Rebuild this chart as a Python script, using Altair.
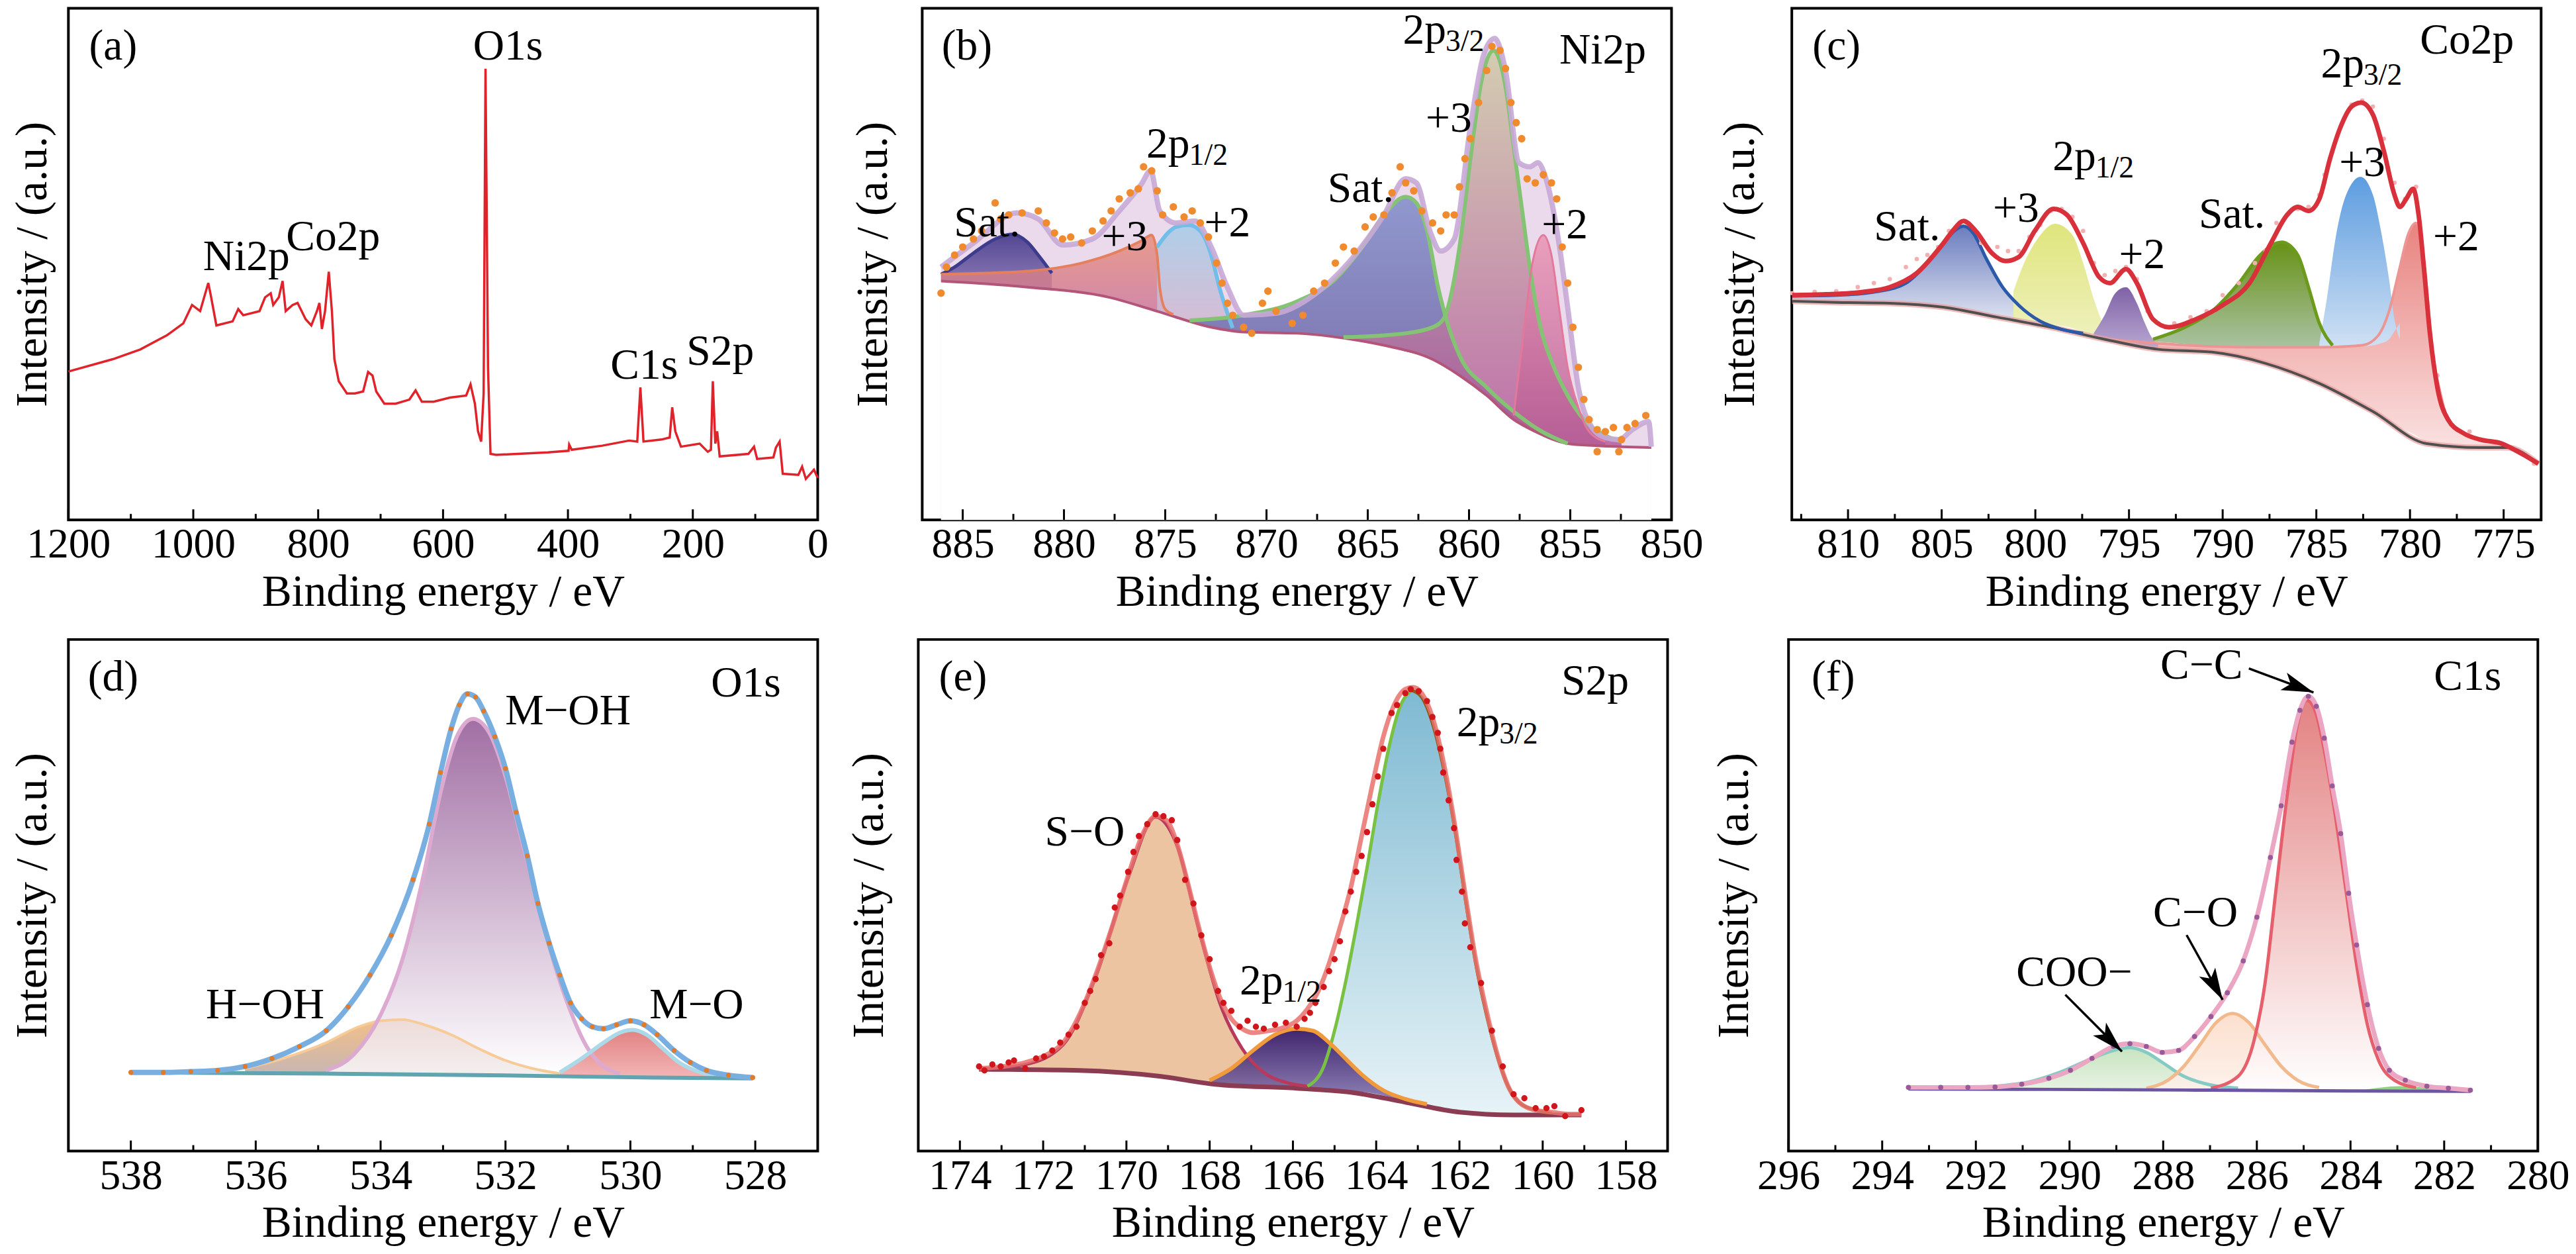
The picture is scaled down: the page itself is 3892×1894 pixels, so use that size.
import math

import altair as alt
import pandas as pd

FONT = "Liberation Serif"
W, H = 1140, 778

# %% (a) survey spectrum  (binding energy / eV, intensity / a.u.)

a_be = [1200, 1129, 1085, 1042, 1016, 1002, 989, 976, 972, 963, 937, 928, 920, 894, 885, 876, 872, 863, 857, 852,
        841, 833, 820, 811, 802, 798, 794, 789, 783, 778, 774, 767, 754, 741, 728, 720, 713, 707, 694, 676,
        654, 644, 634, 615, 589, 563, 556, 549, 544, 539, 535, 532, 528, 524, 515, 432, 399, 398, 394, 345,
        302, 289, 284, 279, 250, 237, 233, 228, 219, 189, 176, 171, 168, 164, 161, 157, 111, 102, 97, 71,
        67, 61, 56, 31, 25, 19, 6, 0]
a_int = [29.0, 31.4, 33.3, 36.1, 38.4, 42.0, 40.8, 46.3, 43.9, 38.0, 38.8, 41.2, 40.0, 40.8, 43.5, 44.3, 42.0, 43.5, 46.7, 40.8,
         42.0, 42.4, 39.2, 38.0, 40.8, 42.4, 37.3, 40.8, 48.5, 40.8, 31.4, 27.1, 24.7, 24.7, 25.1, 28.9, 28.2, 25.1, 22.7, 22.7,
         23.5, 25.3, 23.1, 23.1, 23.9, 24.3, 26.5, 22.7, 17.3, 15.3, 24.7, 88.2, 29.8, 12.9, 12.7, 13.2, 13.5, 14.7, 13.7, 14.5,
         15.5, 15.3, 25.9, 15.3, 15.7, 16.1, 22.0, 17.3, 14.3, 14.9, 13.3, 13.7, 27.1, 14.9, 17.3, 12.4, 12.9, 14.3, 11.9, 12.2,
         14.1, 15.3, 9.0, 8.8, 10.4, 8.0, 9.8, 8.2]
a_ticks = [1200, 1000, 800, 600, 400, 200, 0]
a_minor = [1100, 900, 700, 500, 300, 100]
a_lab = ["Ni2p", "Co2p", "O1s", "C1s", "S2p"]
a_lab_be = [915, 776, 496, 278, 156]
a_lab_i = [51.4, 55.3, 92.5, 30.2, 32.9]

# %% (b) Ni2p

b_bg_be = [886.07, 881.8, 877.8, 875.4, 872.73, 871.13, 868.47, 865.8, 864.2, 861.8, 860.47, 859.13, 857.8, 856.73,
           855.13, 853.8, 852.47, 851.0]
b_bg = [595, 580, 555, 520, 480, 468, 465, 450, 435, 400, 360, 310, 250, 220, 190, 185, 182, 180]
b_env_be = [886.07, 884.47, 882.33, 881.27, 880.07, 878.6, 877.27, 876.2, 875.72, 875.27, 874.47, 873.53, 872.73,
            871.93, 871.13, 869.53, 867.67, 865.8, 864.2, 863.13, 862.6, 861.93, 861.4, 860.73, 859.93, 859.27,
            858.73, 858.2, 857.53, 857.0, 856.6, 856.2, 855.53, 855.13, 854.6, 853.93, 853.27, 852.6, 851.93,
            851.13, 851.0]
b_env = [630, 690, 765, 750, 685, 700, 770, 835, 870, 770, 740, 745, 680, 580, 510, 515, 560, 650, 760, 850, 840,
         720, 670, 700, 980, 1160, 1200, 1120, 890, 880, 890, 850, 680, 530, 330, 230, 205, 200, 225, 245, 182]
b_sat1_be = [886.07, 885.4, 884.47, 883.4, 882.55, 881.8, 881.27, 880.6]
b_sat1 = [612, 630, 665, 700, 712, 692, 660, 615]
b_sat1_0 = [595, 593, 590, 586, 583, 580, 578, 576]
b_p3a_be = [886.07, 881.8, 879.13, 877.27, 876.2, 875.67, 875.4, 875.27, 875.0, 874.6]
b_p3a = [612, 620, 640, 670, 695, 710, 660, 580, 525, 512]
b_p3a_0 = [595, 580, 566, 547, 532, 524, 520, 518, 515, 510]
b_p2a_be = [875.4, 874.87, 874.47, 873.85, 873.27, 872.73, 872.33, 871.93, 871.67]
b_p2a = [680, 715, 730, 735, 720, 660, 580, 515, 478]
b_p2a_0 = [520, 512, 506, 497, 488, 480, 477, 474, 472]
b_sat2_be = [873.8, 871.13, 868.47, 866.6, 865.27, 864.2, 863.13, 862.6, 862.07, 861.53, 861.0, 860.47, 859.13,
             857.8, 856.47, 855.13]
b_sat2 = [497, 510, 545, 600, 680, 760, 805, 790, 720, 580, 480, 410, 330, 270, 222, 190]
b_sat2_0 = [496, 468, 465, 455, 445, 435, 420, 413, 404, 392, 376, 360, 310, 250, 215, 190]
b_p3b_be = [866.2, 863.13, 861.8, 861.27, 860.47, 859.93, 859.4, 858.79, 858.2, 857.8, 857.4, 857.0, 856.47,
            855.8, 855.13, 854.33, 853.27, 852.47]
b_p3b = [455, 465, 480, 500, 680, 900, 1090, 1170, 1080, 930, 780, 630, 480, 380, 310, 250, 210, 195]
b_p3b_0 = [452, 420, 400, 384, 360, 340, 320, 295, 272, 250, 239, 228, 215, 200, 190, 187, 184, 182]
b_p2b_be = [857.8, 857.27, 856.87, 856.33, 855.93, 855.53, 855.13, 854.6, 854.07, 853.27]
b_p2b = [260, 480, 640, 710, 660, 520, 380, 280, 220, 195]
b_p2b_0 = [250, 235, 225, 213, 205, 198, 190, 188, 186, 184]
b_dot_be = [886.07, 885.8, 885.4, 885.0, 884.47, 884.07, 883.4, 883.13, 882.73, 882.07, 881.27, 880.87, 880.47,
            880.07, 879.67, 879.13, 878.6, 878.07, 877.67, 877.27, 876.73, 876.33, 876.07, 875.67, 875.4, 875.13,
            874.6, 874.07, 873.67, 873.27, 872.87, 872.47, 872.2, 871.93, 871.67, 871.13, 870.73, 870.2, 869.93,
            869.53, 868.73, 868.2, 867.67, 867.13, 866.6, 866.2, 865.67, 865.13, 864.73, 864.2, 863.8, 863.4,
            863.13, 862.73, 862.33, 861.8, 861.4, 861.13, 860.73, 860.47, 860.2, 859.93, 859.53, 859.13, 858.87,
            858.47, 858.2, 857.93, 857.67, 857.4, 857.13, 856.73, 856.33, 855.93, 855.67, 855.4, 855.13, 854.87,
            854.6, 854.33, 854.07, 853.67, 853.27, 852.87, 852.47, 852.2, 851.8, 851.27, 853.67, 852.6]
b_dot = [565, 630, 660, 680, 700, 720, 790, 750, 760, 765, 770, 740, 715, 700, 705, 690, 720, 745, 770, 800, 815,
         825, 880, 870, 820, 760, 780, 755, 770, 740, 705, 640, 590, 540, 510, 480, 465, 540, 570, 520, 490, 510,
         570, 590, 640, 680, 670, 730, 755, 760, 815, 880, 840, 820, 770, 740, 720, 760, 760, 830, 900, 950, 1040,
         1120, 1180, 1170, 1125, 1040, 990, 950, 850, 840, 860, 840, 800, 680, 590, 480, 380, 300, 250, 225, 220,
         230, 200, 230, 240, 260, 170, 170]
b_ticks = [885, 880, 875, 870, 865, 860, 855, 850]
b_minor = [882.5, 877.5, 872.5, 867.5, 862.5, 857.5, 852.5]
b_lab = ["Ni2p", "+3", "Sat.", "+3", "+2", "Sat.", "+2"]
b_lab_be = [853.4, 861.0, 883.8, 877.0, 871.93, 865.35, 855.27]
b_lab_i = [1170, 1000, 740, 705, 740, 825, 735]
b_sub_be = [863.27, 875.93]
b_sub_i = [1220, 935]
b_sub = ["3/2", "1/2"]

# %% (c) Co2p

c_bg_be = [812.98, 810.63, 807.77, 804.9, 802.03, 799.17, 796.3, 793.44, 790.57, 787.71, 784.84, 781.98, 779.11,
           776.25, 774.82, 773.15]
c_bg = [545, 542, 540, 530, 505, 480, 450, 425, 418, 390, 340, 270, 190, 180, 180, 140]
c_env_be = [812.98, 811.2, 809.2, 807.77, 806.33, 804.9, 804.33, 803.84, 803.18, 802.32, 801.6, 800.89, 800.03,
            799.03, 798.31, 797.45, 796.59, 796.02, 795.16, 794.58, 793.72, 792.87, 791.43, 790.0, 788.57, 787.42,
            786.56, 785.99, 785.42, 784.84, 784.27, 783.7, 783.12, 782.61, 781.98, 781.4, 780.83, 780.54, 780.2,
            779.83, 779.54, 779.26, 778.97, 778.54, 777.97, 777.11, 776.25, 775.1, 774.24, 773.15]
c_env = [560, 562, 568, 580, 615, 690, 725, 745, 720, 665, 645, 655, 720, 775, 760, 690, 605, 590, 625, 590, 500,
         480, 500, 535, 590, 690, 760, 780, 770, 800, 900, 980, 1030, 1040, 1010, 920, 810, 780, 800, 825, 760,
         630, 480, 330, 250, 215, 200, 190, 170, 140]
c_sat1_be = [812.98, 810.63, 808.34, 806.91, 805.76, 804.9, 804.33, 803.84, 803.32, 802.61, 801.75, 800.89,
             799.74, 798.6, 797.45]
c_sat1 = [558, 560, 570, 590, 640, 690, 720, 732, 715, 650, 580, 535, 495, 475, 465]
c_sat1_0 = [545, 542, 540, 538, 535, 530, 522, 518, 514, 509, 503, 497, 490, 480, 468]
c_p3a_be = [801.17, 800.6, 799.89, 798.94, 798.02, 797.45, 796.88, 796.3, 795.87]
c_p3a = [570, 640, 700, 738, 710, 640, 550, 480, 455]
c_p3a_0 = [501, 499, 494, 486, 478, 468, 460, 450, 445]
c_p2a_be = [796.88, 796.3, 795.73, 795.16, 794.58, 794.15, 793.72, 793.44]
c_p2a = [465, 510, 565, 580, 540, 490, 450, 440]
c_p2a_0 = [458, 450, 445, 438, 432, 428, 426, 425]
c_sat2_be = [793.72, 792.01, 790.57, 789.14, 788.0, 786.85, 785.99, 785.42, 784.84, 784.13]
c_sat2 = [450, 480, 520, 590, 660, 692, 660, 580, 490, 435]
c_sat2_0 = [445, 438, 432, 430, 430, 430, 430, 430, 430, 432]
c_p3b_be = [784.84, 784.41, 783.98, 783.41, 782.64, 781.98, 781.55, 781.12, 780.83, 780.54]
c_p3b = [440, 560, 700, 810, 855, 810, 720, 600, 500, 450]
c_p3b_0 = [432, 432, 432, 432, 432, 435, 440, 450, 470, 490]
c_p2b_be = [796.3, 793.44, 790.57, 787.71, 784.84, 782.55, 781.69, 781.12, 780.54, 780.11, 779.68, 779.4, 779.11,
            778.83, 778.4, 777.97, 777.11, 776.25, 775.1, 774.24, 773.15]
c_p2b = [450, 440, 432, 430, 430, 435, 460, 520, 630, 710, 740, 700, 580, 430, 320, 250, 215, 200, 192, 170, 140]
c_p2b_0 = [450, 425, 418, 390, 340, 280, 260, 245, 230, 220, 210, 202, 190, 185, 182, 180, 180, 180, 180, 168, 140]
c_dot_be = [812.98, 811.78, 810.63, 809.48, 808.62, 807.77, 806.91, 806.33, 805.76, 805.19, 804.61, 804.04,
            803.47, 802.89, 802.03, 801.46, 800.89, 800.32, 799.74, 799.17, 798.6, 798.02, 797.45, 796.88, 796.3,
            795.73, 795.16, 794.58, 794.01, 793.44, 792.58, 791.72, 790.86, 790.0, 789.14, 788.28, 787.71, 787.13,
            786.56, 785.99, 785.42, 784.84, 784.56, 784.27, 783.7, 783.12, 782.55, 781.98, 781.4, 780.83, 780.26,
            779.68, 779.11, 778.54, 777.97, 776.82, 775.67, 774.53, 773.38]
c_dot = [565, 568, 570, 580, 590, 600, 630, 650, 660, 680, 720, 740, 735, 690, 680, 670, 670, 705, 735, 770, 775,
         755, 720, 640, 610, 620, 630, 600, 520, 490, 490, 505, 520, 560, 590, 640, 670, 740, 760, 775, 780, 810,
         860, 900, 980, 1035, 1045, 1030, 950, 840, 800, 830, 520, 360, 250, 220, 195, 180, 140]
c_ticks = [810, 805, 800, 795, 790, 785, 780, 775]
c_minor = [812.5, 807.5, 802.5, 797.5, 792.5, 787.5, 782.5, 777.5]
c_lab = ["Co2p", "+3", "+2", "Sat.", "+3", "Sat.", "+2"]
c_lab_be = [776.96, 782.55, 777.54, 789.51, 801.03, 806.85, 794.3]
c_lab_i = [1195, 890, 705, 760, 775, 730, 660]
c_sub_be = [784.76, 799.08]
c_sub_i = [1135, 905]
c_sub = ["3/2", "1/2"]

# %% (d) O1s

d_bg_be = [538, 534.87, 532.26, 529.65, 528.04]
d_bg = [198, 195, 191, 185, 183]
d_env_be = [538, 537.48, 537.04, 536.61, 536.17, 535.74, 535.3, 534.87, 534.52, 534.17, 533.83, 533.48, 533.22,
            533.04, 532.87, 532.74, 532.61, 532.48, 532.35, 532.17, 532.0, 531.83, 531.65, 531.48, 531.3, 531.13,
            530.96, 530.78, 530.61, 530.43, 530.22, 530.0, 529.78, 529.57, 529.3, 529.04, 528.78, 528.43, 528.04]
d_env = [198, 198, 200, 203, 213, 233, 263, 303, 363, 443, 543, 683, 823, 953, 1063, 1123, 1151, 1143, 1108, 1043,
         963, 853, 743, 623, 523, 443, 373, 333, 313, 308, 318, 328, 318, 293, 253, 223, 203, 191, 185]
d_moh_be = [534.87, 534.43, 534.0, 533.65, 533.3, 533.04, 532.78, 532.52, 532.26, 532.0, 531.74, 531.48, 531.22,
            530.96, 530.7, 530.43, 530.17]
d_moh = [203, 243, 343, 483, 703, 903, 1043, 1088, 1053, 943, 783, 623, 473, 353, 263, 213, 195]
d_moh_0 = [193, 193, 192, 191, 191, 191, 190, 190, 189, 189, 189, 188, 188, 187, 187, 187, 186]
d_hoh_be = [536.17, 535.57, 534.87, 534.35, 534.0, 533.65, 533.3, 532.87, 532.43, 532.0, 531.57, 531.13]
d_hoh = [208, 233, 273, 313, 328, 331, 318, 293, 258, 228, 208, 195]
d_hoh_0 = [195, 194, 193, 193, 192, 191, 191, 190, 190, 189, 188, 188]
d_mo_be = [531.13, 530.78, 530.43, 530.17, 529.96, 529.74, 529.48, 529.22, 528.87, 528.52]
d_mo = [198, 233, 273, 298, 305, 293, 258, 223, 198, 188]
d_mo_0 = [188, 187, 187, 186, 186, 185, 185, 184, 184, 183]
d_ticks = [538, 536, 534, 532, 530, 528]
d_minor = [537, 535, 533, 531, 529]
d_lab = ["O1s", "M\u2212OH", "H\u2212OH", "M\u2212O"]
d_lab_be = [528.15, 531.0, 535.85, 528.94]
d_lab_i = [1178, 1108, 368, 368]

# %% (e) S2p

e_bg_be = [173.54, 171.13, 169.17, 167.87, 165.91, 164.61, 163.3, 162.0, 160.7, 159.07]
e_bg = [206, 203, 188, 168, 158, 148, 123, 98, 91, 91]
e_env_be = [173.54, 172.96, 172.43, 171.91, 171.52, 171.13, 170.74, 170.35, 169.96, 169.63, 169.3, 169.04, 168.78,
            168.52, 168.26, 168.0, 167.74, 167.48, 167.22, 166.96, 166.57, 166.17, 165.91, 165.65, 165.39, 165.13,
            164.87, 164.61, 164.35, 164.09, 163.83, 163.57, 163.3, 163.11, 162.91, 162.65, 162.39, 162.13, 161.87,
            161.61, 161.35, 161.09, 160.83, 160.57, 160.17, 159.78, 159.39, 159.07]
e_env = [208, 213, 223, 243, 273, 343, 443, 563, 693, 793, 843, 833, 773, 673, 563, 463, 383, 333, 308, 298, 303,
         313, 328, 358, 403, 473, 563, 663, 793, 923, 1043, 1123, 1163, 1168, 1153, 1093, 983, 833, 653, 483, 353,
         243, 163, 123, 103, 98, 93, 93]
e_so_be = [173.54, 172.43, 171.52, 170.74, 169.96, 169.3, 168.78, 168.26, 167.74, 167.22, 166.7, 166.17, 165.65]
e_so = [206, 218, 268, 438, 688, 841, 768, 558, 368, 258, 198, 173, 163]
e_so_0 = [206, 204, 203, 200, 192, 187, 180, 172, 168, 164, 161, 158, 157]
e_p1_be = [168.0, 167.48, 166.96, 166.43, 165.91, 165.52, 165.13, 164.74, 164.35, 163.83, 163.3, 162.78]
e_p1 = [178, 208, 253, 293, 308, 303, 273, 233, 193, 153, 131, 118]
e_p1_0 = [172, 168, 164, 160, 158, 156, 154, 152, 149, 140, 123, 110]
e_p3_be = [165.65, 165.26, 165.0, 164.74, 164.48, 164.22, 163.96, 163.7, 163.43, 163.15, 162.91, 162.65, 162.39,
           162.13, 161.87, 161.61, 161.35, 161.09, 160.83, 160.57, 160.17, 159.78]
e_p3 = [163, 213, 303, 423, 563, 713, 873, 1013, 1118, 1160, 1143, 1078, 968, 823, 643, 473, 343, 238, 163, 123,
        103, 95]
e_p3_0 = [157, 154, 152, 149, 146, 141, 136, 131, 125, 120, 116, 111, 106, 101, 97, 96, 94, 93, 92, 91, 91, 91]
e_dot_be = [173.54, 173.41, 173.22, 173.02, 172.83, 172.7, 172.43, 172.17, 171.98, 171.78, 171.59, 171.39, 171.2,
            171.0, 170.87, 170.74, 170.61, 170.41, 170.28, 170.15, 169.96, 169.83, 169.7, 169.5, 169.3, 169.11,
            168.91, 168.78, 168.59, 168.39, 168.2, 168.0, 167.8, 167.67, 167.48, 167.28, 167.09, 166.89, 166.7,
            166.43, 166.17, 165.91, 165.72, 165.59, 165.46, 165.26, 165.13, 165.0, 164.87, 164.74, 164.61, 164.48,
            164.35, 164.22, 164.09, 163.96, 163.83, 163.63, 163.5, 163.3, 163.17, 162.98, 162.78, 162.65, 162.52,
            162.46, 162.39, 162.26, 162.13, 162.07, 161.94, 161.87, 161.74, 161.48, 161.22, 160.96, 160.7, 160.44,
            160.17, 159.91, 159.72, 159.46, 159.07]
e_dot = [213, 203, 218, 213, 223, 228, 208, 233, 238, 253, 273, 293, 313, 373, 403, 433, 493, 523, 613, 643, 703,
         753, 793, 823, 848, 843, 833, 783, 683, 623, 543, 483, 403, 373, 353, 313, 328, 313, 308, 318, 323, 313,
         333, 348, 373, 413, 453, 483, 528, 603, 653, 703, 743, 803, 873, 943, 1013, 1103, 1123, 1153, 1163, 1158,
         1133, 1093, 1053, 1013, 953, 883, 813, 733, 653, 573, 513, 423, 303, 213, 143, 133, 108, 108, 113, 88, 103]
e_ticks = [174, 172, 170, 168, 166, 164, 162, 160, 158]
e_minor = [173, 171, 169, 167, 165, 163, 161, 159]
e_lab = ["S2p", "S\u2212O"]
e_lab_be = [158.74, 171.0]
e_lab_i = [1183, 803]
e_sub_be = [162.07, 167.28]
e_sub_i = [1078, 428]
e_sub = ["3/2", "1/2"]

# %% (f) C1s

f_bg_be = [293.44, 290.44, 286.98, 284.04, 281.44]
f_bg = [156, 155, 153, 151, 150]
f_env_be = [293.44, 292.75, 292.17, 291.59, 291.02, 290.44, 289.98, 289.52, 289.06, 288.71, 288.36, 288.02,
            287.67, 287.33, 286.98, 286.63, 286.29, 286.0, 285.71, 285.48, 285.25, 285.08, 284.9, 284.73, 284.56,
            284.39, 284.21, 284.04, 283.87, 283.64, 283.4, 283.17, 282.83, 282.37, 281.91, 281.44]
f_env = [160, 160, 160, 161, 168, 183, 203, 233, 263, 270, 263, 248, 253, 288, 338, 398, 478, 588, 738, 868, 1028,
         1108, 1143, 1118, 1038, 918, 798, 648, 518, 368, 258, 203, 178, 163, 158, 153]
f_coo_be = [292.4, 291.59, 290.9, 290.21, 289.52, 289.06, 288.71, 288.36, 288.02, 287.56, 286.98, 286.4]
f_coo = [158, 163, 173, 198, 233, 253, 260, 248, 223, 188, 166, 158]
f_coo_0 = [156, 156, 155, 155, 155, 154, 154, 154, 154, 153, 153, 153]
f_co_be = [288.36, 287.9, 287.56, 287.21, 286.87, 286.52, 286.17, 285.83, 285.48, 285.13, 284.67]
f_co = [158, 178, 213, 268, 323, 346, 323, 268, 213, 178, 160]
f_co_0 = [154, 154, 153, 153, 153, 153, 152, 152, 152, 152, 151]
f_cc_be = [286.98, 286.4, 286.06, 285.83, 285.6, 285.37, 285.14, 284.93, 284.73, 284.56, 284.33, 284.1, 283.87,
           283.64, 283.4, 283.06, 282.6]
f_cc = [158, 188, 278, 418, 648, 878, 1068, 1133, 1098, 1008, 848, 658, 468, 318, 228, 178, 160]
f_cc_0 = [153, 153, 152, 152, 152, 152, 152, 151, 151, 151, 151, 151, 151, 151, 151, 150, 150]
f_gr_be = [283.75, 282.94, 282.14]
f_gr = [153, 163, 155]
f_gr_0 = [151, 151, 150]
f_ticks = [296, 294, 292, 290, 288, 286, 284, 282, 280]
f_minor = [295, 293, 291, 289, 287, 285, 283, 281]
f_lab = ["C1s", "C\u2212C", "C\u2212O", "COO\u2212"]
f_lab_be = [281.5, 287.18, 287.31, 289.9]
f_lab_i = [1193, 1220, 598, 448]
# arrows: tail (be, i) -> head (be2, i2)
f_arr_be = [286.17, 287.5, 290.09]
f_arr_i = [1213, 543, 393]
f_arr_be2 = [284.79, 286.73, 288.88]
f_arr_i2 = [1153, 380, 250]


# %% helpers

def grad(top, bottom):
    return alt.Gradient(
        gradient="linear", x1=0, x2=0, y1=0, y2=1,
        stops=[alt.GradientStop(color=top, offset=0), alt.GradientStop(color=bottom, offset=1)],
    )


def encs(lo, hi, top, ticks, tpad):
    x = alt.X(
        "be:Q",
        scale=alt.Scale(domain=[lo, hi], reverse=True, nice=False, zero=False),
        axis=alt.Axis(
            values=ticks, format="d", title="Binding energy / eV", grid=False, ticks=False, tickSize=0,
            domain=False, labelFont=FONT, labelFontSize=64, labelColor="black", labelPadding=6,
            labelFlush=False, labelOverlap=False, titleFont=FONT, titleFontSize=68,
            titleFontWeight="normal", titleColor="black", titlePadding=6,
        ),
    )
    y = alt.Y(
        "i:Q",
        scale=alt.Scale(domain=[0, top], nice=False),
        axis=alt.Axis(
            title="Intensity / (a.u.)", labels=False, ticks=False, domain=False, grid=False,
            titleFont=FONT, titleFontSize=68, titleFontWeight="normal", titleColor="black",
            titlePadding=tpad,
        ),
    )
    return x, y


def area(X, Y, be, top, base, fill, opacity=1.0):
    df = pd.DataFrame({"be": be, "i": top, "i0": base})
    return alt.Chart(df).mark_area(color=fill, opacity=opacity, interpolate="monotone").encode(
        x=X, y=Y, y2="i0:Q")


def floor_area(X, Y, be, top, fill, opacity=1.0):
    df = pd.DataFrame({"be": be, "i": top})
    return alt.Chart(df).mark_area(color=fill, opacity=opacity, interpolate="monotone").encode(
        x=X, y=Y, y2=alt.value(H - 3))


def line(X, Y, be, vals, color, width, interp="monotone", opacity=1.0):
    df = pd.DataFrame({"be": be, "i": vals})
    return alt.Chart(df).mark_line(color=color, strokeWidth=width, interpolate=interp,
                                   opacity=opacity).encode(x=X, y=Y)


def dots(X, Y, be, vals, color, size, opacity=1.0):
    df = pd.DataFrame({"be": be, "i": vals})
    return alt.Chart(df).mark_circle(color=color, size=size, opacity=opacity).encode(x=X, y=Y)


def texts(X, Y, txt, be, vals):
    df = pd.DataFrame({"t": txt, "be": be, "i": vals})
    return alt.Chart(df).mark_text(font=FONT, fontSize=66, color="black").encode(x=X, y=Y, text="t")


def sub_texts(X, Y, be, vals, subs):
    df = pd.DataFrame({"be": be, "i": vals, "s": subs})
    main = alt.Chart(df).mark_text(font=FONT, fontSize=66, align="left", baseline="middle",
                                   color="black", text="2p").encode(x=X, y=Y)
    sub = alt.Chart(df).mark_text(font=FONT, fontSize=46, align="left", baseline="middle",
                                  color="black", dx=65, dy=17).encode(x=X, y=Y, text="s")
    return [main, sub]


def frame_ticks(X, major, minor):
    big = alt.Chart(pd.DataFrame({"be": major})).mark_rule(color="black", strokeWidth=3).encode(
        x=X, y=alt.value(H), y2=alt.value(H - 16))
    small = alt.Chart(pd.DataFrame({"be": minor})).mark_rule(color="black", strokeWidth=3).encode(
        x=X, y=alt.value(H), y2=alt.value(H - 9))
    return [big, small]


def tag(t):
    return alt.Chart(pd.DataFrame({"t": [t]})).mark_text(
        font=FONT, fontSize=66, color="black").encode(x=alt.value(68), y=alt.value(58), text="t")


def panel(layers):
    return alt.layer(*layers).properties(width=W, height=H)


# %% (a)
X, Y = encs(0, 1200, 100, a_ticks, 20)
pa = panel([
    line(X, Y, a_be, a_int, "#e0232b", 3.5, interp="linear"),
    texts(X, Y, a_lab, a_lab_be, a_lab_i),
    *frame_ticks(X, a_ticks, a_minor),
    tag("(a)"),
])

# %% (b)
X, Y = encs(850, 887, 1275, b_ticks, 40)
pb = panel([
    floor_area(X, Y, b_env_be, b_env, "#e9d6ea", 0.9),
    floor_area(X, Y, b_bg_be, b_bg, "white"),
    area(X, Y, b_sat1_be, b_sat1, b_sat1_0, grad("#4b3f8e", "#8a78b6"), 0.95),
    area(X, Y, b_p3a_be, b_p3a, b_p3a_0, grad("#e98a74", "#c9739a"), 0.8),
    area(X, Y, b_p2a_be, b_p2a, b_p2a_0, grad("#a5cce8", "#d6b6cf"), 0.85),
    area(X, Y, b_sat2_be, b_sat2, b_sat2_0, grad("#8591cb", "#6d5c9c"), 0.9),
    area(X, Y, b_p3b_be, b_p3b, b_p3b_0, grad("#cdc9a2", "#b3549a"), 0.8),
    area(X, Y, b_p2b_be, b_p2b, b_p2b_0, grad("#ea8fb0", "#b45a92"), 0.8),
    line(X, Y, b_bg_be, b_bg, "#b35479", 4),
    line(X, Y, b_sat1_be, b_sat1, "#3c3b8c", 5),
    line(X, Y, b_p3a_be, b_p3a, "#e5805f", 4),
    line(X, Y, b_p2a_be, b_p2a, "#72bde9", 6),
    line(X, Y, b_sat2_be, b_sat2, "#84c374", 6),
    line(X, Y, b_p3b_be, b_p3b, "#84c374", 6),
    line(X, Y, b_p2b_be, b_p2b, "#e2789a", 3),
    line(X, Y, b_env_be, b_env, "#c7a9d6", 8, opacity=0.9),
    dots(X, Y, b_dot_be, b_dot, "#f08a2e", 130),
    texts(X, Y, b_lab, b_lab_be, b_lab_i),
    *sub_texts(X, Y, b_sub_be, b_sub_i, b_sub),
    *frame_ticks(X, b_ticks, b_minor),
    tag("(b)"),
])

# %% (c)
X, Y = encs(773, 813, 1275, c_ticks, 44)
pc = panel([
    area(X, Y, c_p2b_be, c_p2b, c_p2b_0, grad("#e8837f", "#fbe8e8")),
    area(X, Y, c_sat1_be, c_sat1, c_sat1_0, grad("#6a7dbf", "#eef0f7")),
    area(X, Y, c_p3a_be, c_p3a, c_p3a_0, grad("#dfe57c", "#eff1bf")),
    area(X, Y, c_p2a_be, c_p2a, c_p2a_0, grad("#7f62a6", "#b9a8d2")),
    area(X, Y, c_sat2_be, c_sat2, c_sat2_0, grad("#679115", "#a9c2a2")),
    area(X, Y, c_p3b_be, c_p3b, c_p3b_0, grad("#5d9de0", "#cfe0f3")),
    line(X, Y, c_p2b_be, c_p2b, "#eb9694", 4),
    line(X, Y, c_bg_be, c_bg, "#e8a0a0", 9, opacity=0.7),
    line(X, Y, c_bg_be, c_bg, "#4f4f4f", 4),
    line(X, Y, c_sat1_be, c_sat1, "#2c5aa8", 5),
    line(X, Y, c_sat2_be, c_sat2, "#6b9a1d", 5),
    dots(X, Y, c_dot_be, c_dot, "#f3b0b0", 45),
    line(X, Y, c_env_be, c_env, "#d8313b", 7),
    texts(X, Y, c_lab, c_lab_be, c_lab_i),
    *sub_texts(X, Y, c_sub_be, c_sub_i, c_sub),
    *frame_ticks(X, c_ticks, c_minor),
    tag("(c)"),
])

# %% (d)
X, Y = encs(527, 539, 1288, d_ticks, 20)
pd_ = panel([
    area(X, Y, d_hoh_be, d_hoh, d_hoh_0, grad("#f2bf88", "#c6b6b4")),
    area(X, Y, d_moh_be, d_moh, d_moh_0, grad("#8a4b8d", "#ffffff"), 0.8),
    area(X, Y, d_mo_be, d_mo, d_mo_0, grad("#de7474", "#f2aeae"), 0.9),
    line(X, Y, d_hoh_be, d_hoh, "#f7cb98", 4),
    line(X, Y, d_moh_be, d_moh, "#dcaad0", 6),
    line(X, Y, d_mo_be, d_mo, "#acd9e8", 6),
    line(X, Y, d_bg_be, d_bg, "#5fa4ae", 6),
    line(X, Y, d_env_be, d_env, "#79afe0", 8),
    dots(X, Y, d_env_be, d_env, "#e07a2c", 55),
    texts(X, Y, d_lab, d_lab_be, d_lab_i),
    *frame_ticks(X, d_ticks, d_minor),
    tag("(d)"),
])

# %% (e)
X, Y = encs(157, 175, 1288, e_ticks, 40)
e_left = [(b, v) for b, v in zip(e_p3_be, e_p3) if b >= 163.15]
e_right = [(b, v) for b, v in zip(e_p3_be, e_p3) if b <= 163.15]
pe = panel([
    area(X, Y, e_so_be, e_so, e_so_0, "#ebc19c", 0.95),
    area(X, Y, e_p3_be, e_p3, e_p3_0, grad("#78b6d0", "#e5f2f6"), 0.95),
    area(X, Y, e_p1_be, e_p1, e_p1_0, grad("#2a0c5c", "#8f80b8"), 0.9),
    line(X, Y, e_bg_be, e_bg, "#8b3b52", 7),
    line(X, Y, e_so_be, e_so, "#b73a5c", 5),
    line(X, Y, [b for b, _ in e_left], [v for _, v in e_left], "#79c143", 5),
    line(X, Y, [b for b, _ in e_right], [v for _, v in e_right], "#8d5b1c", 5),
    line(X, Y, e_p1_be, e_p1, "#f19a3c", 6),
    line(X, Y, e_env_be, e_env, "#e8716c", 7, opacity=0.85),
    dots(X, Y, e_dot_be, e_dot, "#d0161b", 90),
    texts(X, Y, e_lab, e_lab_be, e_lab_i),
    *sub_texts(X, Y, e_sub_be, e_sub_i, e_sub),
    *frame_ticks(X, e_ticks, e_minor),
    tag("(e)"),
])

# %% (f)
X, Y = encs(280, 296, 1286, f_ticks, 48)
arrows = pd.DataFrame({"be": f_arr_be, "i": f_arr_i, "be2": f_arr_be2, "i2": f_arr_i2})
# arrow-head angle from the on-screen direction of each arrow
px_x = W / (296 - 280)
px_y = H / 1286
arrows["ang"] = [
    math.degrees(math.atan2((b1 - b2) * px_x, (i2 - i1) * px_y)) % 360
    for b1, i1, b2, i2 in zip(f_arr_be, f_arr_i, f_arr_be2, f_arr_i2)
]
head = "M0,0L0.55,1.9L0,1.45L-0.55,1.9Z"
pf = panel([
    area(X, Y, f_coo_be, f_coo, f_coo_0, grad("#c4e2bd", "#e6f2e2"), 0.95),
    area(X, Y, f_co_be, f_co, f_co_0, grad("#fbdcc8", "#fdf1ea"), 0.9),
    area(X, Y, f_cc_be, f_cc, f_cc_0, grad("#e07474", "#ffffff"), 0.9),
    area(X, Y, f_gr_be, f_gr, f_gr_0, "#93d083"),
    line(X, Y, f_coo_be, f_coo, "#86cbc3", 5),
    line(X, Y, f_co_be, f_co, "#f1b98c", 5),
    line(X, Y, f_cc_be, f_cc, "#e55f6d", 5),
    line(X, Y, f_bg_be, f_bg, "#6c55a2", 5),
    line(X, Y, f_env_be, f_env, "#eaa6c2", 7),
    dots(X, Y, f_env_be, f_env, "#9a5a98", 60),
    alt.Chart(arrows).mark_rule(color="black", strokeWidth=3.5).encode(
        x=X, y=Y, x2="be2:Q", y2="i2:Q"),
    alt.Chart(arrows).mark_point(shape=head, filled=True, color="black", opacity=1, size=2600).encode(
        x=alt.X("be2:Q", scale=alt.Scale(domain=[280, 296], reverse=True, nice=False, zero=False)),
        y=alt.Y("i2:Q", scale=alt.Scale(domain=[0, 1286], nice=False)),
        angle=alt.Angle("ang:Q", scale=None)),
    texts(X, Y, f_lab, f_lab_be, f_lab_i),
    *frame_ticks(X, f_ticks, f_minor),
    tag("(f)"),
])

# %% assemble (spacings tuned so the plot frames sit where the reference has them)

row1 = alt.hconcat(alt.hconcat(pa, pb, spacing=31), pc, spacing=19)
row2 = alt.hconcat(alt.hconcat(pd_, pe, spacing=41), pf, spacing=64)
chart = (
    alt.vconcat(row1, row2, spacing=34)
    .properties(padding={"left": 6, "top": -4, "right": 0, "bottom": 0})
    .configure(background="white")
    .configure_view(stroke="black", strokeWidth=4)
)

chart.save("out.html", embed_options={"renderer": "svg", "actions": False})
